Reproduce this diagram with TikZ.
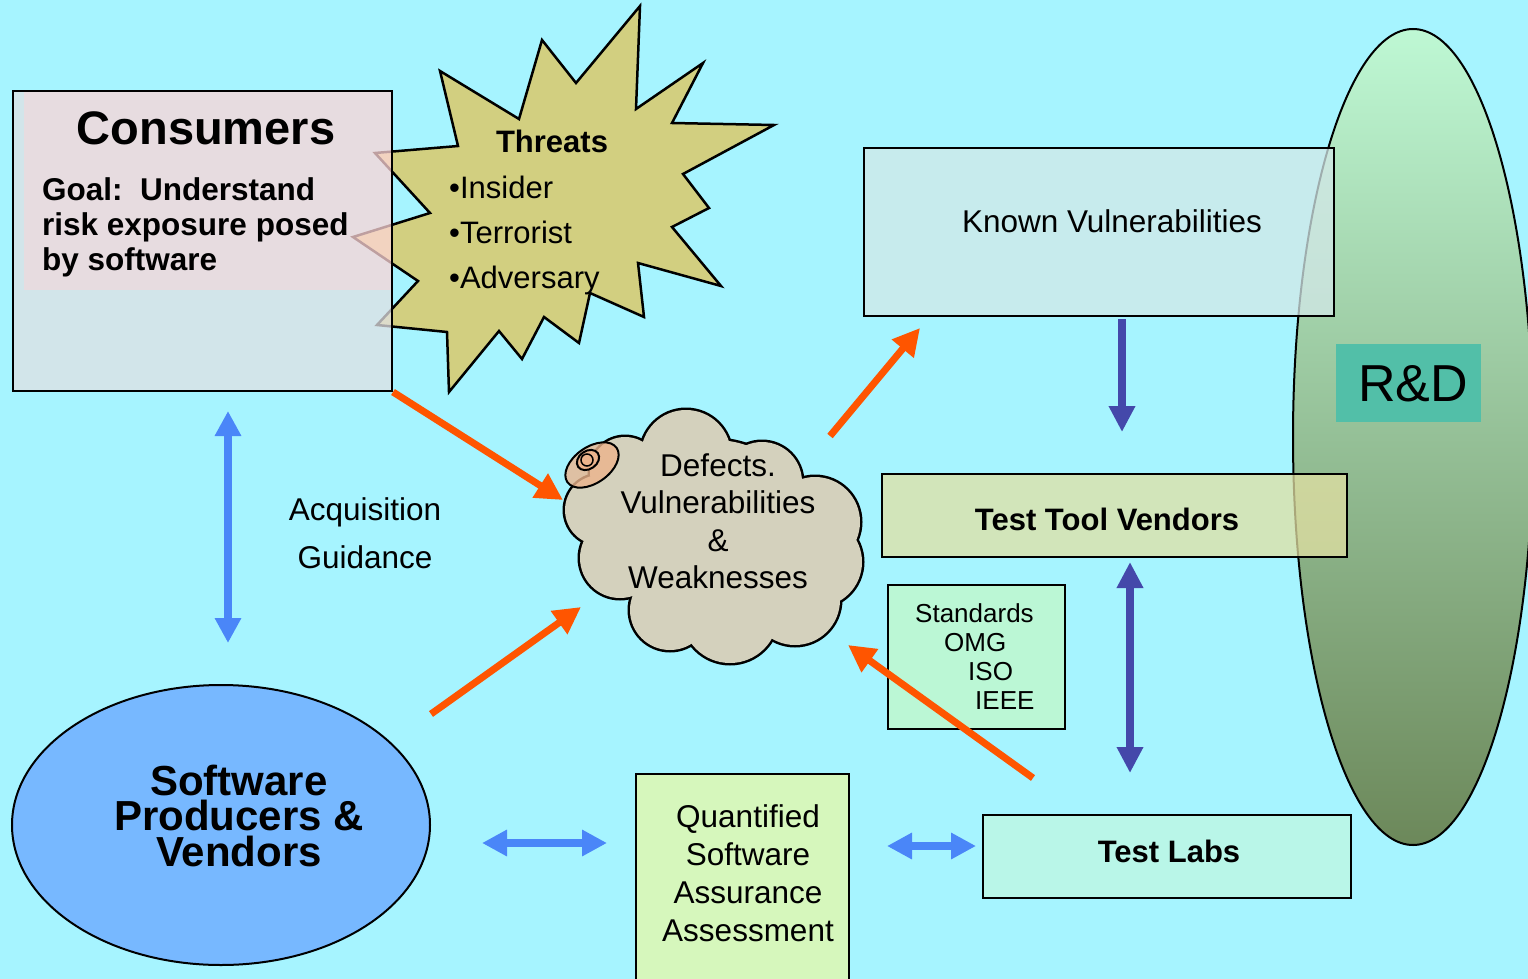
\documentclass[tikz,border=0pt]{standalone}
\usepackage{fontspec}
\setmainfont{Liberation Sans}
\usetikzlibrary{arrows.meta,shapes.geometric}
\definecolor{bgc}{RGB}{166,244,255}
\definecolor{rdtop}{RGB}{190,248,212}
\definecolor{rdmid}{RGB}{163,214,166}
\definecolor{rdbot}{RGB}{108,136,90}
\definecolor{rdlabel}{RGB}{82,191,168}
\definecolor{starfill}{RGB}{210,207,128}
\definecolor{consPink}{RGB}{254,213,214}
\definecolor{consGray}{RGB}{226,225,227}
\definecolor{kvfill}{RGB}{211,232,232}
\definecolor{ttvfill}{RGB}{226,224,163}
\definecolor{stdfill}{RGB}{187,247,213}
\definecolor{labfill}{RGB}{185,246,232}
\definecolor{qfill}{RGB}{214,247,188}
\definecolor{swfill}{RGB}{119,184,255}
\definecolor{cloudfill}{RGB}{212,209,189}
\definecolor{peach}{RGB}{236,180,140}
\definecolor{orangearr}{RGB}{255,85,0}
\definecolor{bluearr}{RGB}{74,134,248}
\definecolor{darkbluearr}{RGB}{68,72,170}
\newcommand\myfs[2]{\fontsize{#1}{#2}\selectfont}
\begin{document}
\begin{tikzpicture}[x=1pt,y=-1pt,
  boxnode/.style={draw=black, line width=2pt, inner sep=0pt, anchor=north west},
  oarrow/.style={draw=orangearr, line width=7pt, -{Triangle[length=27pt,width=27pt]}},
  barrow/.style={draw=bluearr, line width=8pt, {Triangle[length=25pt,width=25pt]}-{Triangle[length=25pt,width=25pt]}},
  dbarrow/.style={draw=darkbluearr, line width=8pt, -{Triangle[length=26pt,width=25pt]}},
  dbdarrow/.style={draw=darkbluearr, line width=8pt, {Triangle[length=26pt,width=25pt]}-{Triangle[length=26pt,width=25pt]}},
  txt/.style={inner sep=0pt, text=black}]
\useasboundingbox (0,0) rectangle (1528,979);
\fill[bgc] (0,0) rectangle (1528,979);

% R&D ellipse
\node[ellipse, draw=black, line width=2pt, inner sep=0pt, minimum width=240pt, minimum height=816pt,
  top color=rdtop, middle color=rdmid, bottom color=rdbot] (rd) at (1413,437) {};
\node[fill=rdlabel, inner sep=0pt, minimum width=145pt, minimum height=78pt] (rdl) at (1408.5,383) {};
\node[txt, anchor=base, font=\myfs{52}{60}] (rdt) at (1413,401) {R\&D};

% Threats starburst
\draw[fill=starfill, line width=2.5pt, line join=miter] (440,71) -- (519,119) -- (542,40) -- (576,83) -- (640,6)
  -- (636,109) -- (703,63) -- (672,123) -- (774,125) -- (683,174) -- (709,208) -- (672,227)
  -- (721,286) -- (638,263) -- (644,317) -- (590,293) -- (579,343) -- (544,317) -- (522,359)
  -- (499,331) -- (449,392) -- (447,332) -- (377,325) -- (418,281) -- (353,237) -- (430,213)
  -- (375,153) -- (458,146) -- cycle;

% Consumers box
\fill[consGray, fill opacity=0.75] (12,90) rectangle (24,290);
\fill[consGray, fill opacity=0.75] (12,290) rectangle (391,390);
\fill[consPink, fill opacity=0.75] (24,90) rectangle (391,290);
\node[boxnode, minimum width=379pt, minimum height=300pt] (cons) at (12,90) {};
\node[txt, anchor=base, font=\bfseries\myfs{47}{56}] (constitle) at (206,145) {Consumers};
\node[txt, anchor=base west, align=left, font=\bfseries\myfs{31.5}{35}] (goal) at (42,270)
  {Goal:\ \ Understand\\risk exposure posed\\by software};
\node[txt, anchor=base, font=\bfseries\myfs{31}{36}] (thr) at (552,153) {Threats};
\node[txt, anchor=base west, align=left, font=\myfs{31}{45}] (thrl) at (449,288)
  {•Insider\\•Terrorist\\•Adversary};

% Right boxes
\node[boxnode, fill=kvfill, fill opacity=0.75, minimum width=470pt, minimum height=168pt] (kv) at (863,147) {};
\node[txt, anchor=base, font=\myfs{31.5}{36}] (kvt) at (1112,232) {Known Vulnerabilities};
\node[boxnode, fill=ttvfill, fill opacity=0.75, minimum width=465pt, minimum height=83pt] (ttv) at (881,473) {};
\node[txt, anchor=base, font=\bfseries\myfs{31}{36}] (ttvt) at (1107,530) {Test Tool Vendors};
\node[boxnode, fill=stdfill, minimum width=177pt, minimum height=144pt] (std) at (887,584) {};
\node[txt, anchor=base west, align=left, font=\myfs{26}{29.2}] (stdt) at (915,709.6)
  {Standards\\\hspace*{29pt}OMG\\\hspace*{53pt}ISO\\\hspace*{60pt}IEEE};
\node[boxnode, fill=labfill, minimum width=368pt, minimum height=83pt] (lab) at (982,814) {};
\node[txt, anchor=base, font=\bfseries\myfs{31}{36}] (labt) at (1169,862) {Test Labs};
\node[boxnode, fill=qfill, minimum width=213pt, minimum height=225pt] (qa) at (635,773) {};
\node[txt, anchor=base, align=center, font=\myfs{31.5}{37.7}] (qat) at (748,941)
  {Quantified\\Software\\Assurance\\Assessment};

% Software producers ellipse
\node[ellipse, draw=black, line width=2pt, fill=swfill, inner sep=0pt, minimum width=418pt, minimum height=280pt] (sw) at (221,825) {};
\node[txt, anchor=base, align=center, font=\bfseries\myfs{42}{35.5}] (swt) at (239,866)
  {Software\\Producers \&\\Vendors};

\node[txt, anchor=base, align=center, font=\myfs{31.5}{48}] (acq) at (365,568) {Acquisition\\Guidance};

% Cloud
\foreach \cx/\cy/\r in {686/455/45, 625/472/35, 600/510/35, 620/558/40, 670/610/40, 730/615/48,
  795/600/45, 817/562/45, 815/522/45, 762/482/40, 715/535/95}
  \draw[line width=5pt] (\cx,\cy) circle[radius=\r];
\foreach \cx/\cy/\r in {686/455/45, 625/472/35, 600/510/35, 620/558/40, 670/610/40, 730/615/48,
  795/600/45, 817/562/45, 815/522/45, 762/482/40, 715/535/95}
  \fill[cloudfill] (\cx,\cy) circle[radius=\r];
\draw[line width=2pt, fill=peach, fill opacity=0.8, rotate around={35:(592,465)}] (592,465) ellipse[x radius=30, y radius=18];
\draw[line width=2pt, fill=peach, rotate around={35:(588,460)}] (588,460) ellipse[x radius=12, y radius=9];
\draw[line width=1.5pt] (587,460) circle[radius=6];
\node[txt, anchor=base, align=center, font=\myfs{31.5}{37.5}] (cloud) at (718,588.5)
  {Defects.\\Vulnerabilities\\\&\\Weaknesses};

% Connector coordinates
\coordinate (a1e) at (563,500);
\coordinate (a2s) at (431,714);
\coordinate (a2e) at (581,607);
\coordinate (a3s) at (830,436);
\coordinate (a3e) at (920,328);
\coordinate (a4s) at (1033,778);
\coordinate (a4e) at (848,645);
\coordinate (b1s) at (228,411);
\coordinate (b1e) at (228,643);
\coordinate (b2s) at (482,843);
\coordinate (b2e) at (607,843);
\coordinate (b3s) at (887,846);
\coordinate (b3e) at (976,846);
\coordinate (d1s) at (1122,319);
\coordinate (d1e) at (1122,432);
\coordinate (d2s) at (1130,562);
\coordinate (d2e) at (1130,773);

\draw[oarrow] (cons.south east) -- (a1e);
\draw[oarrow] (a2s) -- (a2e);
\draw[oarrow] (a3s) -- (a3e);
\draw[oarrow] (a4s) -- (a4e);
\draw[barrow] (b1s) -- (b1e);
\draw[barrow] (b2s) -- (b2e);
\draw[barrow] (b3s) -- (b3e);
\draw[dbarrow] (d1s) -- (d1e);
\draw[dbdarrow] (d2s) -- (d2e);
\end{tikzpicture}
\end{document}
